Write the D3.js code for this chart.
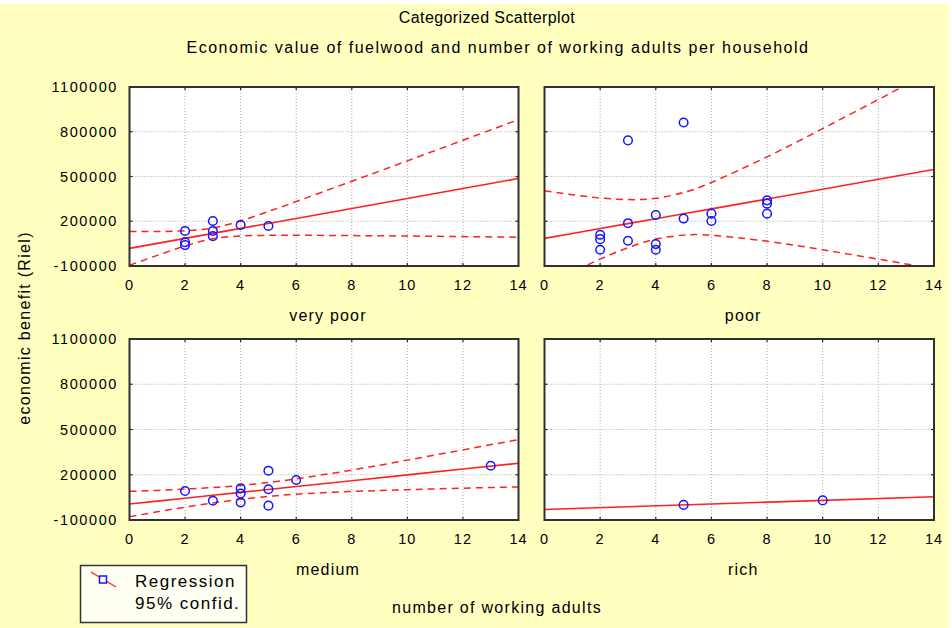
<!DOCTYPE html>
<html>
<head>
<meta charset="utf-8">
<script src="https://cdn.jsdelivr.net/npm/d3@7"></script>
<style>
  body { margin: 0; background: #ffffff; }
  svg { display: block; }
  text { font-family: "Liberation Sans", Arial, sans-serif; fill: #000; }
</style>
</head>
<body>
<svg id="chart" width="952" height="628"></svg>
<script>
// ---- data -------------------------------------------------------------
const categories = ["very poor", "poor", "medium", "rich"];
const xTicks = [0, 2, 4, 6, 8, 10, 12, 14];
const yTicks = [-100000, 200000, 500000, 800000, 1100000];
const yTickLabels = ["-100000", "200000", "500000", "800000", "1100000"];

// households: number of working adults (x) and economic benefit in Riel (y)
const veryPoorX = [2, 2, 2, 3, 3, 3, 4, 5];
const veryPoorY = [135000, 60000, 40000, 202000, 135000, 100000, 175000, 168000];
const poorX = [2, 2, 2, 3, 3, 3, 4, 4, 4, 5, 5, 6, 6, 8, 8, 8];
const poorY = [109000, 80000, 9000, 742000, 187000, 69000, 242000, 47000, 9000, 862000, 218000, 251000, 202000, 340000, 318000, 251000];
const mediumX = [2, 3, 4, 4, 4, 5, 5, 5, 6, 13];
const mediumY = [92000, 28000, 110000, 76000, 17000, 227000, 104000, -5000, 165000, 260000];
const richX = [5, 10];
const richY = [0, 30000];

// regression line and 95% confidence limits, sampled along x
const bandX = [0, 1, 2, 3, 4, 5, 6, 8, 10, 12, 14];
const veryPoorFit   = [18000, 51500, 85000, 118500, 152000, 185500, 219000, 286000, 353000, 420000, 487000];
const veryPoorUpper = [131000, 131500, 136000, 155000, 203000, 265500, 332000, 468000, 605000, 743000, 881000];
const veryPoorLower = [-95000, -28500, 34000, 82000, 101000, 105500, 106000, 104000, 101000, 97000, 93000];
const poorFit   = [85000, 118000, 151000, 184000, 217000, 250000, 283000, 349000, 415000, 481000, 547000];
const poorUpper = [404000, 378000, 356000, 345000, 353500, 393000, 460000, 632000, 821000, 1016000, 1213000];
const poorLower = [-234000, -142000, -54000, 23000, 80500, 107000, 106000, 66000, 9000, -54000, -119000];
const mediumFit   = [6000, 25300, 44600, 63900, 83200, 102500, 121800, 160400, 199000, 237600, 276200];
const mediumUpper = [90000, 96000, 105000, 115000, 129000, 148500, 173000, 231000, 297000, 365000, 433000];
const mediumLower = [-78000, -46000, -15000, 13000, 37000, 56500, 71000, 89000, 101000, 111000, 119000];
const richFitX = [0, 14];
const richFit  = [-30000, 54000];

// ---- layout -----------------------------------------------------------
const W = 952, H = 628;
const cols = [[129.5, 518.5], [544.5, 934]];
const rows = [[87, 266], [339, 520]];

const panels = [
  { name: categories[0], col: 0, row: 0, px: veryPoorX, py: veryPoorY,
    fitX: bandX, fit: veryPoorFit, upper: veryPoorUpper, lower: veryPoorLower },
  { name: categories[1], col: 1, row: 0, px: poorX, py: poorY,
    fitX: bandX, fit: poorFit, upper: poorUpper, lower: poorLower },
  { name: categories[2], col: 0, row: 1, px: mediumX, py: mediumY,
    fitX: bandX, fit: mediumFit, upper: mediumUpper, lower: mediumLower },
  { name: categories[3], col: 1, row: 1, px: richX, py: richY,
    fitX: richFitX, fit: richFit, upper: null, lower: null }
];

const svg = d3.select("#chart");
svg.append("rect").attr("x", 0).attr("y", 4).attr("width", 949).attr("height", H - 4)
  .attr("fill", "#ffffc0");

function label(x, y, str, size, opts = {}) {
  const t = svg.append("text")
    .attr("x", x).attr("y", y)
    .attr("font-size", size)
    .attr("text-anchor", opts.anchor || "middle")
    .attr("dominant-baseline", "central")
    .attr("letter-spacing", opts.ls == null ? 0 : opts.ls)
    .text(str);
  if (opts.rotate) t.attr("transform", `rotate(${opts.rotate},${x},${y})`);
  return t;
}

// titles
label(487, 17, "Categorized Scatterplot", 16, { ls: 0.4 });
label(498, 47, "Economic value of fuelwood and number of working adults per household", 16, { ls: 1.5 });

panels.forEach((p, i) => {
  const [x0, x1] = cols[p.col];
  const [y0, y1] = rows[p.row];
  const x = d3.scaleLinear().domain([0, 14]).range([x0, x1]);
  const y = d3.scaleLinear().domain([-100000, 1100000]).range([y1, y0]);

  const clipId = "clip" + i;
  svg.append("clipPath").attr("id", clipId)
    .append("rect").attr("x", x0).attr("y", y0).attr("width", x1 - x0).attr("height", y1 - y0);

  svg.append("rect").attr("x", x0).attr("y", y0).attr("width", x1 - x0).attr("height", y1 - y0)
    .attr("fill", "#ffffff");

  const g = svg.append("g");

  // dotted grid
  g.selectAll(".gx").data(xTicks.slice(1, -1)).join("line")
    .attr("x1", d => x(d)).attr("x2", d => x(d)).attr("y1", y0).attr("y2", y1)
    .attr("stroke", "#a8a8a8").attr("stroke-width", 1).attr("stroke-dasharray", "1,2");
  g.selectAll(".gy").data(yTicks.slice(1, -1)).join("line")
    .attr("y1", d => y(d)).attr("y2", d => y(d)).attr("x1", x0).attr("x2", x1)
    .attr("stroke", "#a8a8a8").attr("stroke-width", 1).attr("stroke-dasharray", "1,2");

  // small inward ticks on all four sides
  const tk = svg.append("g").attr("stroke", "#222").attr("stroke-width", 1.2);
  xTicks.slice(1, -1).forEach(d => {
    tk.append("line").attr("x1", x(d)).attr("x2", x(d)).attr("y1", y1).attr("y2", y1 - 3);
    tk.append("line").attr("x1", x(d)).attr("x2", x(d)).attr("y1", y0).attr("y2", y0 + 3);
  });
  yTicks.slice(1, -1).forEach(d => {
    tk.append("line").attr("y1", y(d)).attr("y2", y(d)).attr("x1", x0).attr("x2", x0 + 3);
    tk.append("line").attr("y1", y(d)).attr("y2", y(d)).attr("x1", x1).attr("x2", x1 - 3);
  });

  const lines = svg.append("g").attr("clip-path", `url(#${clipId})`);
  const curve = d3.line().x(d => x(d[0])).y(d => y(d[1])).curve(d3.curveNatural);
  const straight = d3.line().x(d => x(d[0])).y(d => y(d[1]));

  if (p.upper) {
    [p.upper, p.lower].forEach(band => {
      lines.append("path")
        .attr("d", curve(p.fitX.map((v, k) => [v, band[k]])))
        .attr("fill", "none").attr("stroke", "#ff2020").attr("stroke-width", 1.5)
        .attr("stroke-dasharray", "7,5");
    });
  }
  lines.append("path")
    .attr("d", straight(p.fitX.map((v, k) => [v, p.fit[k]])))
    .attr("fill", "none").attr("stroke", "#ff2020").attr("stroke-width", 1.6);

  lines.selectAll("circle").data(p.px.map((v, k) => [v, p.py[k]])).join("circle")
    .attr("cx", d => x(d[0])).attr("cy", d => y(d[1])).attr("r", 4.3)
    .attr("fill", "none").attr("stroke", "#1515ff").attr("stroke-width", 1.5);

  // frame
  svg.append("rect").attr("x", x0).attr("y", y0).attr("width", x1 - x0).attr("height", y1 - y0)
    .attr("fill", "none").attr("stroke", "#303030").attr("stroke-width", 2);

  // axis tick labels
  xTicks.forEach(d => label(x(d), y1 + 19, String(d), 14.5, { ls: 1 }));
  if (p.col === 0) {
    yTicks.forEach((d, k) => label(118, y(d), yTickLabels[k], 14.5, { anchor: "end", ls: 1.6 }));
  }

  // category label
  label((x0 + x1) / 2 + 4, y1 + 49, p.name, 16, { ls: 1.2 });
});

// axis titles
label(24, 328, "economic benefit (Riel)", 16, { rotate: -90, ls: 1.3 });
label(497, 607, "number of working adults", 16, { ls: 1.3 });

// legend
const lg = svg.append("g");
lg.append("rect").attr("x", 80.5).attr("y", 565.5).attr("width", 166).attr("height", 57)
  .attr("fill", "#fffff2").attr("stroke", "#333").attr("stroke-width", 1.5);
lg.append("line").attr("x1", 91).attr("y1", 572).attr("x2", 116).attr("y2", 587)
  .attr("stroke", "#ff2020").attr("stroke-width", 1.3);
lg.append("rect").attr("x", 99.5).attr("y", 576).attr("width", 7).attr("height", 7)
  .attr("fill", "#ffffff").attr("stroke", "#1515ff").attr("stroke-width", 1.5);
label(135, 581, "Regression", 17, { anchor: "start", ls: 1.5 });
label(135, 603, "95% confid.", 17, { anchor: "start", ls: 1.5 });
</script>
</body>
</html>
